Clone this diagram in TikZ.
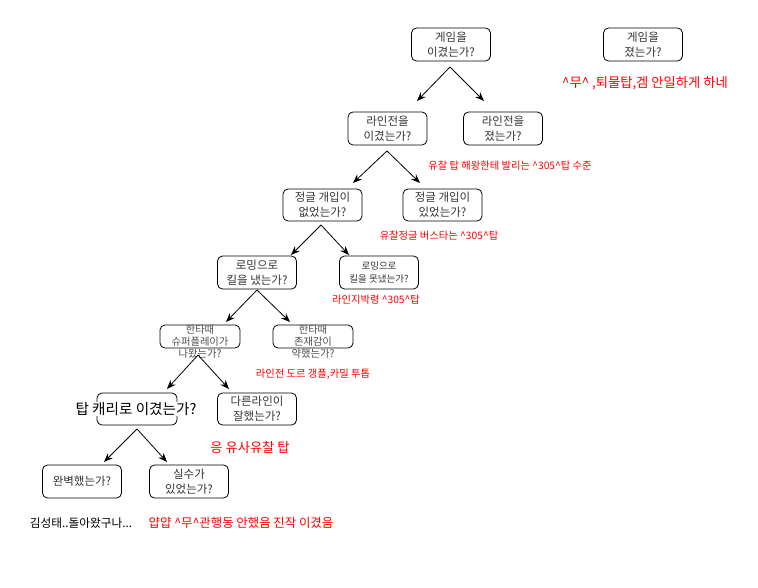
\documentclass[tikz,border=0pt]{standalone}
\usepackage{fontspec}
\setmainfont{Noto Sans CJK KR}
\usetikzlibrary{arrows.meta}
\tikzset{
  box/.style={draw, rounded corners=5pt, line width=0.8pt, inner sep=0pt,
    minimum width=79pt, minimum height=33pt, align=center,
    font=\fontsize{11.5}{15}\selectfont, text=black!80},
  smallbox/.style={box, font=\fontsize{9.5}{13}\selectfont},
  tritext/.style={inner sep=0pt, align=center, text=black!70,
    font=\fontsize{10.3}{12}\selectfont},
  bigtext/.style={inner sep=0pt, fill=white, text=black,
    font=\fontsize{14.6}{16}\selectfont},
  conn/.style={line width=0.8pt, -{Stealth[length=9pt,width=7pt]}},
  redsm/.style={text=red, inner sep=0pt, font=\fontsize{10.3}{12}\selectfont},
  redlg/.style={text=red, inner sep=0pt, font=\fontsize{13.3}{15}\selectfont},
  redmd/.style={text=red, inner sep=0pt, font=\fontsize{12.4}{14}\selectfont},
  blk/.style={text=black, inner sep=0pt, font=\fontsize{11.7}{14}\selectfont},
}
\begin{document}
\begin{tikzpicture}[x=1pt,y=-1pt]
\useasboundingbox (0,0) rectangle (758,588);

% boxes
\node[box] (b1) at (451,44.5) {게임을\\이겼는가?};
\node[box] (b2) at (643,44.5) {게임을\\졌는가?};
\node[redlg] (r1) at (645,83) {\^{}무\^{} ,퇴물탑,겜 안일하게 하네};

\node[box] (b3) at (387.5,128.5) {라인전을\\이겼는가?};
\node[box] (b4) at (503,128.5) {라인전을\\졌는가?};
\node[redsm] (r2) at (510,166) {유찰 탑 해왕한테 발리는 \^{}305\^{}탑 수준};

\node[box, minimum height=32pt] (b5) at (322.5,205) {정글 개입이\\없었는가?};
\node[box, minimum height=32pt] (b6) at (442.5,205) {정글 개입이\\있었는가?};
\node[redsm] (r3) at (439,236) {유찰정글 버스타는 \^{}305\^{}탑};

\node[box] (b7) at (257,272.5) {로밍으로\\킬을 냈는가?};
\node[smallbox] (b8) at (379,272.5) {로밍으로\\킬을 못냈는가?};
\node[redsm] (r4) at (376,300) {라인지박령 \^{}305\^{}탑};

\node[box, minimum width=80pt, minimum height=23pt] (b9) at (200,336.5) {};
\node[tritext] (t9) at (200,342) {한타때\\슈퍼플레이가\\나왔는가?};
\node[box, minimum width=80pt, minimum height=23pt] (b10) at (313,336.5) {};
\node[tritext] (t10) at (313,342) {한타때\\존재감이\\약했는가?};
\node[redsm] (r5) at (313,374) {라인전 도르 갱플,카밀 투톱};

\node[box, minimum width=80pt, minimum height=32pt] (b11) at (137,409) {};
\node[bigtext] (t11) at (136,409) {탑 캐리로 이겼는가?};
\node[box, minimum height=32pt] (b12) at (257,409) {다른라인이\\잘했는가?};
\node[redlg] (r6) at (250,447) {응 유사유찰 탑};

\node[box] (b13) at (82,481.5) {완벽했는가?};
\node[box] (b14) at (189,481.5) {실수가\\있었는가?};
\node[blk] (k1) at (81,523) {김성태..돌아왔구나...};
\node[redmd] (r7) at (241,523) {얍얍 \^{}무\^{}관행동 안했음 진작 이겼음};

% connector points
\coordinate (a1) at (450,67);  \coordinate (p1l) at (417,101); \coordinate (p1r) at (484,101);
\coordinate (a2) at (387,151); \coordinate (p2l) at (353,183); \coordinate (p2r) at (420,183);
\coordinate (a3) at (321,225); \coordinate (p3l) at (291,255); \coordinate (p3r) at (349,255);
\coordinate (a4) at (257,290); \coordinate (p4l) at (226,322); \coordinate (p4r) at (290,322);
\coordinate (a5) at (198,355); \coordinate (p5l) at (167,389); \coordinate (p5r) at (229,389);
\coordinate (a6) at (137,429); \coordinate (p6l) at (104,462); \coordinate (p6r) at (167,462);

\foreach \i in {1,...,6}{
  \draw[conn] (a\i) -- (p\i l);
  \draw[conn] (a\i) -- (p\i r);
}
\end{tikzpicture}
\end{document}
